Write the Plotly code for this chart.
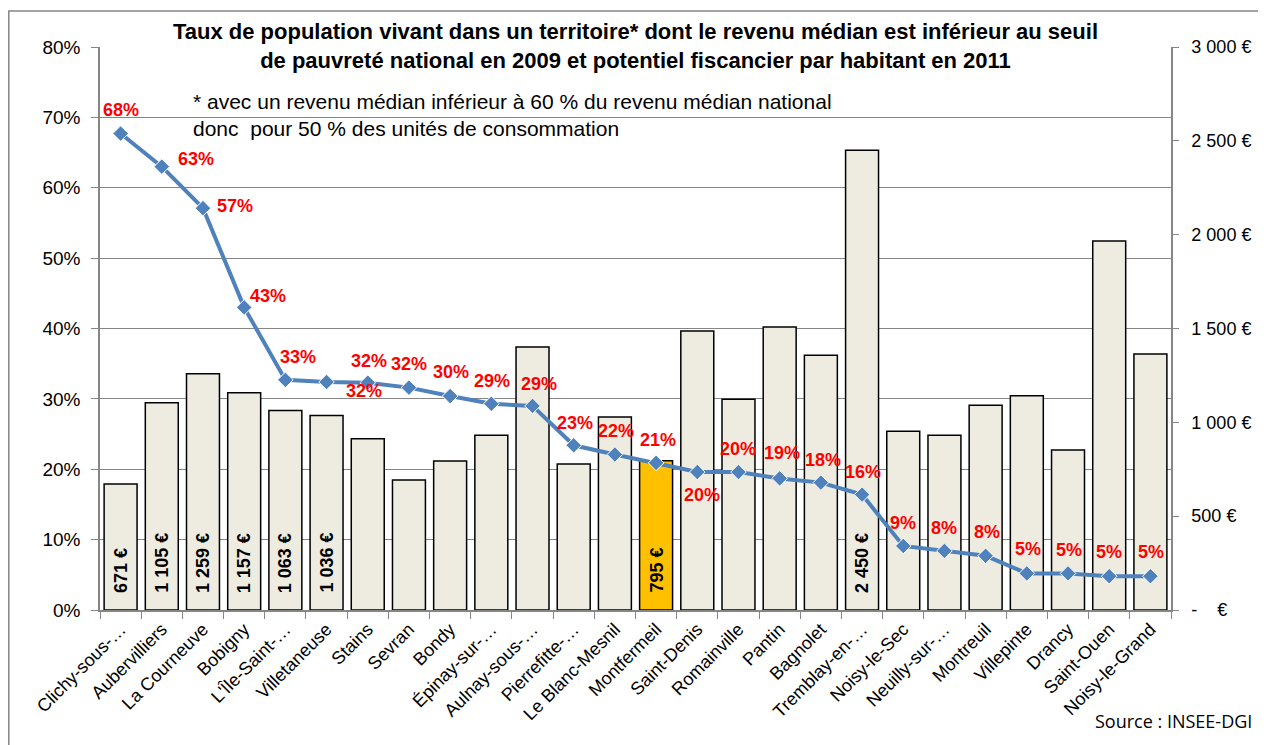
import plotly.graph_objects as go

communes = ["Clichy-sous-…", "Aubervilliers", "La Courneuve", "Bobigny", "L'Île-Saint-…",
            "Villetaneuse", "Stains", "Sevran", "Bondy", "Épinay-sur-…", "Aulnay-sous-…",
            "Pierrefitte-…", "Le Blanc-Mesnil", "Montfermeil", "Saint-Denis", "Romainville",
            "Pantin", "Bagnolet", "Tremblay-en-…", "Noisy-le-Sec", "Neuilly-sur-…",
            "Montreuil", "Villepinte", "Drancy", "Saint-Ouen", "Noisy-le-Grand"]

# potentiel fiscal par habitant 2011 (EUR)
potentiel = [671, 1105, 1259, 1157, 1063, 1036, 913, 693, 794, 931, 1401, 778, 1028, 795,
             1487, 1123, 1508, 1357, 2450, 952, 931, 1091, 1142, 853, 1966, 1364]

# taux de population sous le seuil (%)
taux = [67.7, 63.0, 57.1, 43.0, 32.7, 32.4, 32.3, 31.6, 30.4, 29.3, 29.0, 23.4, 22.1, 20.9,
        19.6, 19.6, 18.7, 18.1, 16.4, 9.1, 8.4, 7.7, 5.2, 5.2, 4.8, 4.8]

# bars carrying a value label
labelled = ["Clichy-sous-…", "Aubervilliers", "La Courneuve", "Bobigny", "L'Île-Saint-…",
            "Villetaneuse", "Montfermeil", "Tremblay-en-…"]
highlight = "Montfermeil"

left_ticks = [0, 10, 20, 30, 40, 50, 60, 70, 80]
right_ticks = [0, 500, 1000, 1500, 2000, 2500, 3000]
right_ticktext = ["-\u00a0\u00a0\u00a0\u00a0€", "500 €", "1 000 €", "1 500 €", "2 000 €", "2 500 €", "3 000 €"]

# label offsets (px, dx right, dy down) — styling only
label_offsets = [(0, -24), (34, -8), (32, -2), (24, -11), (13, -23), (37, 9), (1, -22), (0, -24),
                 (1, -24), (1, -23), (6, -22), (1, -22), (1, -23), (2, -23), (5, 23), (0, -23),
                 (2, -25), (2, -23), (1, -23), (0, -23), (0, -23), (1, -24), (1, -24), (1, -23),
                 (0, -24), (1, -24)]

FONT = "Liberation Sans, Arial, sans-serif"
GRAY = "#868686"

# The page has an 8px body margin: figure is sized so the plot area lands at
# page x 100..1171, y 47..610.
OFF = 8
W, H = 1266 - OFF, 745 - OFF
ML, MT = 100 - OFF, 47 - OFF
PW, PH = 1071, 563
MR, MB = W - ML - PW, H - MT - PH


def px(xpage):
    return (xpage - 100) / PW


def py(ypage):
    return (610 - ypage) / PH


bar_colors = ["#FFC000" if c == highlight else "#EEECE1" for c in communes]

fig = go.Figure()
fig.add_trace(go.Bar(x=communes, y=potentiel, yaxis="y", marker=dict(color=bar_colors,
                     line=dict(color="#000000", width=1.5)), hoverinfo="x+y", showlegend=False))
fig.add_trace(go.Scatter(x=communes, y=[t / 100 for t in taux], yaxis="y2", mode="lines+markers",
                         line=dict(color="#4F81BD", width=4),
                         marker=dict(symbol="diamond", size=12, color="#4F81BD",
                                     line=dict(color="white", width=1)),
                         showlegend=False))

annotations = []
for c, t, (dx, dy) in zip(communes, taux, label_offsets):
    annotations.append(dict(x=c, y=t / 100, xref="x", yref="y2", text=f"{round(t):d}%",
                            showarrow=False, xshift=dx, yshift=-dy,
                            font=dict(family=FONT, size=18, color="#FF0000", weight="bold")))
for c, v in zip(communes, potentiel):
    if c in labelled:
        txt = f"{v:,}".replace(",", " ") + "\u00a0€"
        annotations.append(dict(x=c, y=0, xref="x", yref="y", text=txt, textangle=-90,
                                showarrow=False, yanchor="bottom", yshift=15,
                                font=dict(family=FONT, size=18, color="#000000", weight="bold")))

annotations.append(dict(xref="paper", yref="paper", x=0.5, y=py(17), yanchor="top",
                        showarrow=False,
                        text="Taux de population vivant dans un territoire* dont le revenu médian est inférieur au seuil"
                             "<br>de pauvreté national en 2009 et potentiel fiscancier par habitant en 2011",
                        font=dict(family=FONT, size=22, color="#000000", weight="bold")))
annotations.append(dict(xref="paper", yref="paper", x=px(191), y=py(88),
                        xanchor="left", yanchor="top", align="left", showarrow=False,
                        text="* avec un revenu médian inférieur à 60 % du revenu médian national"
                             "<br>donc\u00a0 pour 50 % des unités de consommation",
                        font=dict(family=FONT, size=21, color="#000000")))
annotations.append(dict(xref="paper", yref="paper", x=px(1254), y=py(735),
                        xanchor="right", yanchor="bottom", showarrow=False,
                        text="Source : INSEE-DGI",
                        font=dict(family="Open Sans, sans-serif", size=18, color="#000000")))

fig.update_layout(
    width=W, height=H,
    margin=dict(l=ML, r=MR, t=MT, b=MB, autoexpand=False),
    paper_bgcolor="white", plot_bgcolor="white",
    bargap=0.2,
    font=dict(family=FONT, size=18, color="#000000"),
    xaxis=dict(type="category", range=[-0.5, len(communes) - 0.5],
               showline=True, linecolor=GRAY, linewidth=1.5,
               ticks="outside", tickson="boundaries", ticklen=7, tickcolor=GRAY,
               tickangle=-45, tickfont=dict(size=18), showgrid=False, automargin=False),
    yaxis=dict(side="right", range=[0, 3000], tickvals=right_ticks, ticktext=right_ticktext,
               showgrid=False, showline=True, linecolor=GRAY, linewidth=1.5,
               ticks="outside", ticklen=6, tickcolor=GRAY, ticklabelstandoff=9,
               tickfont=dict(size=18), zeroline=False, automargin=False),
    yaxis2=dict(overlaying="y", side="left", range=[0, 0.8],
                tickvals=[v / 100 for v in left_ticks], ticktext=[f"{v}%" for v in left_ticks],
                showgrid=True, gridcolor=GRAY, gridwidth=1,
                showline=True, linecolor=GRAY, linewidth=1.5,
                ticks="outside", ticklen=7, tickcolor=GRAY, ticklabelstandoff=7,
                tickfont=dict(size=19), zeroline=False, automargin=False),
    annotations=annotations,
    shapes=[dict(type="rect", xref="paper", yref="paper",
                 x0=px(8.8), x1=px(1300), y0=py(780), y1=py(11),
                 line=dict(color=GRAY, width=1.5), fillcolor="rgba(0,0,0,0)", layer="below")],
)

fig.write_html("out.html")
